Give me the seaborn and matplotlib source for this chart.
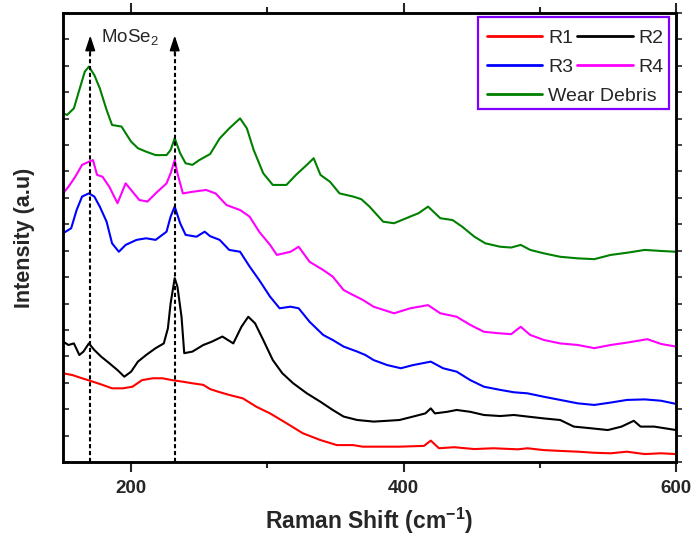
import matplotlib
matplotlib.use("Agg")
import matplotlib.pyplot as plt
from matplotlib.patches import Rectangle
import seaborn as sns
import numpy as np

# ---------------- data ----------------
x_r1 = [150, 157, 164, 172, 179, 186, 194, 201, 208, 216, 223, 230, 238, 245, 253, 258, 264, 272, 282, 292,
        302, 314, 326, 339, 351, 363, 370, 383, 397, 415, 420, 426, 437, 452, 466, 484, 491, 503, 515, 528,
        540, 552, 564, 577, 589, 600]
y_r1 = [3.36, 3.29, 3.17, 3.04, 2.92, 2.79, 2.79, 2.85, 3.10, 3.17, 3.17, 3.10, 3.04, 2.98, 2.92, 2.76, 2.66, 2.54, 2.41, 2.09,
        1.84, 1.47, 1.09, 0.83, 0.64, 0.64, 0.58, 0.58, 0.58, 0.61, 0.81, 0.52, 0.56, 0.49, 0.52, 0.48, 0.52, 0.45, 0.42, 0.39,
        0.35, 0.33, 0.39, 0.30, 0.33, 0.30]

x_r2 = [150, 154, 158, 162, 165, 169, 173, 178, 184, 190, 195, 200, 205, 211, 218, 224, 227, 229, 232, 234,
        237, 239, 245, 253, 259, 267, 275, 281, 286, 291, 297, 304, 311, 319, 329, 339, 348, 356, 366, 374,
        378, 388, 397, 407, 416, 420, 423, 432, 439, 449, 459, 471, 481, 491, 503, 515, 525, 537, 550, 560,
        569, 574, 584, 600]
y_r2 = [4.56, 4.43, 4.49, 4.05, 4.18, 4.49, 4.24, 3.99, 3.74, 3.48, 3.23, 3.42, 3.80, 4.05, 4.31, 4.49, 5.06, 6.01, 6.96, 6.64,
        5.50, 4.12, 4.18, 4.43, 4.55, 4.75, 4.49, 5.12, 5.50, 5.25, 4.62, 3.86, 3.36, 2.98, 2.60, 2.28, 1.97, 1.72, 1.59, 1.55,
        1.53, 1.56, 1.59, 1.72, 1.84, 2.03, 1.84, 1.90, 1.97, 1.90, 1.78, 1.74, 1.78, 1.72, 1.65, 1.59, 1.34, 1.28, 1.21, 1.34,
        1.56, 1.34, 1.34, 1.21]

x_r3 = [150, 156, 160, 164, 169, 173, 177, 182, 186, 191, 196, 204, 211, 218, 226, 229, 232, 236, 240, 248,
        254, 258, 265, 272, 280, 287, 294, 302, 309, 317, 323, 331, 341, 348, 356, 366, 372, 378, 388, 398,
        407, 420, 429, 439, 449, 459, 471, 481, 491, 503, 515, 528, 540, 552, 564, 577, 589, 600]
y_r3 = [8.66, 8.85, 9.54, 10.05, 10.17, 10.05, 9.67, 9.10, 8.28, 7.96, 8.22, 8.41, 8.47, 8.41, 8.72, 9.29, 9.67, 9.04, 8.60, 8.53,
        8.72, 8.55, 8.41, 8.03, 7.96, 7.40, 6.89, 6.26, 5.82, 5.88, 5.82, 5.31, 4.81, 4.62, 4.37, 4.18, 4.05, 3.86, 3.67, 3.55,
        3.67, 3.80, 3.55, 3.42, 3.10, 2.85, 2.73, 2.64, 2.60, 2.47, 2.35, 2.22, 2.16, 2.25, 2.35, 2.37, 2.32, 2.20]

x_r4 = [150, 154, 159, 164, 169, 172, 175, 179, 184, 190, 196, 200, 206, 212, 218, 226, 229, 232, 234, 238,
        245, 255, 262, 270, 280, 287, 294, 302, 307, 317, 323, 331, 341, 348, 356, 363, 370, 378, 393, 405,
        418, 427, 439, 449, 459, 471, 479, 486, 493, 503, 515, 528, 540, 552, 564, 579, 589, 600]
y_r4 = [10.17, 10.42, 10.80, 11.25, 11.37, 11.43, 10.87, 10.80, 10.42, 9.80, 10.55, 10.30, 9.92, 9.86, 10.17, 10.55, 10.93, 11.43, 10.93, 10.17,
        10.23, 10.30, 10.17, 9.73, 9.54, 9.29, 8.72, 8.22, 7.84, 7.96, 8.15, 7.58, 7.27, 7.02, 6.51, 6.32, 6.14, 5.88, 5.63, 5.82,
        5.94, 5.63, 5.50, 5.19, 4.93, 4.87, 4.84, 5.12, 4.81, 4.62, 4.49, 4.43, 4.31, 4.43, 4.52, 4.65, 4.47, 4.37]

x_wd = [150, 153, 158, 162, 166, 169, 173, 177, 182, 186, 193, 196, 200, 205, 211, 218, 226, 229, 232, 236,
        240, 245, 250, 258, 265, 272, 280, 285, 290, 297, 304, 314, 321, 329, 334, 339, 346, 353, 363, 369,
        375, 385, 393, 402, 411, 418, 427, 436, 443, 452, 460, 471, 479, 486, 493, 503, 515, 528, 540, 552,
        565, 577, 589, 600]
y_wd = [13.20, 13.14, 13.39, 14.09, 14.78, 14.97, 14.65, 14.15, 13.33, 12.76, 12.70, 12.45, 12.13, 11.88, 11.75, 11.62, 11.62, 11.81, 12.26, 11.69,
        11.31, 11.25, 11.43, 11.66, 12.25, 12.63, 13.01, 12.63, 11.81, 10.93, 10.49, 10.49, 10.87, 11.25, 11.50, 10.87, 10.61, 10.17, 10.05, 9.95,
        9.67, 9.10, 9.04, 9.23, 9.42, 9.67, 9.23, 9.16, 8.91, 8.53, 8.28, 8.15, 8.12, 8.22, 8.03, 7.90, 7.77, 7.71, 7.68, 7.84,
        7.93, 8.03, 7.99, 7.96]

series_names = ["R1", "R2", "R3", "R4", "Wear Debris"]
series_colors = ["#ff0000", "#000000", "#0000ff", "#ff00ff", "#008000"]
marker_positions = [170, 232]
x_ticks_major = [200, 400, 600]
x_ticks_minor = [300, 500]

# ---------------- style ----------------
sns.set_style("ticks")
plt.rcParams["font.family"] = ["Liberation Sans", "DejaVu Sans"]
plt.rcParams["mathtext.fontset"] = "custom"
plt.rcParams["mathtext.rm"] = "Liberation Sans"
plt.rcParams["mathtext.bf"] = "Liberation Sans:bold"

W, H = 696, 544
fig = plt.figure(figsize=(W / 100, H / 100), dpi=100)
ax = fig.add_axes([63 / W, 1 - 462 / H, 613 / W, 449 / H])

xs = [x_r1, x_r2, x_r3, x_r4, x_wd]
ys = [y_r1, y_r2, y_r3, y_r4, y_wd]
for xv, yv, name, col in zip(xs, ys, series_names, series_colors):
    sns.lineplot(x=xv, y=yv, ax=ax, color=col, linewidth=1.5, label=name, estimator=None, sort=False)

# dashed arrows marking MoSe2 peaks
for xp in marker_positions:
    ax.plot([xp, xp], [0, 15.6], color="black", linewidth=1.5, linestyle=(0, (2, 1.3)), zorder=5)
    ax.annotate("", xy=(xp, 16.15), xytext=(xp, 15.4),
                arrowprops=dict(arrowstyle="-|>,head_length=0.9,head_width=0.3", color="black",
                                linewidth=1.2, shrinkA=0, shrinkB=0), zorder=6)
ax.text(178, 16.05, "MoSe$_2$", fontsize=13.5, va="center", ha="left")

ax.set_xlim(150, 600)
ax.set_ylim(0, 17)
ax.set_xticks(x_ticks_major)
ax.set_xticks(x_ticks_minor, minor=True)
ax.set_xticklabels([str(v) for v in x_ticks_major], fontsize=13.5, fontweight="bold")
ax.set_yticks(np.arange(0, 18, 1))
ax.set_yticklabels([])
ax.tick_params(axis="x", which="major", direction="out", length=7, width=1.5, top=True, pad=6)
ax.tick_params(axis="x", which="minor", direction="out", length=4, width=1.5, top=True)
ax.tick_params(axis="y", which="major", direction="in", length=4, width=1.2, left=True, right=False)

# right-side outward ticks
ax_r = ax.twinx()
ax_r.set_ylim(0, 17)
ax_r.set_yticks(np.arange(0, 18, 1))
ax_r.set_yticklabels([])
ax_r.tick_params(axis="y", direction="out", length=4, width=1.2)

for a in (ax, ax_r):
    for s in a.spines.values():
        s.set_linewidth(1.8)
        s.set_color("black")
        s.set_visible(True)

ax.set_xlabel(r"Raman Shift (cm$^{\mathbf{-1}}$)", fontsize=16.5, fontweight="bold", labelpad=6)
ax.set_ylabel("Intensity (a.u)", fontsize=15.5, fontweight="bold", labelpad=17)

# ---------------- legend: two stacked legends inside one purple frame ----------------
handles, labels = ax.get_legend_handles_labels()
if ax.get_legend() is not None:
    ax.get_legend().remove()
hmap = dict(zip(labels, handles))

common = dict(fontsize=14, frameon=False, handlelength=2.85, handletextpad=0.3,
              borderpad=0, borderaxespad=0, loc="upper left", bbox_transform=fig.transFigure)
leg1 = ax_r.legend([hmap["R1"], hmap["R3"], hmap["R2"], hmap["R4"]], ["R1", "R3", "R2", "R4"],
                   ncol=2, columnspacing=0.2, labelspacing=0.6,
                   bbox_to_anchor=(487 / W, 1 - 29 / H), **common)
ax_r.add_artist(leg1)
leg2 = ax_r.legend([hmap["Wear Debris"]], ["Wear Debris"],
                   bbox_to_anchor=(487 / W, 1 - 87 / H), **common)
for lg in (leg1, leg2):
    for ln in lg.get_lines():
        ln.set_linewidth(2.0)

fig.add_artist(Rectangle((478 / W, 1 - 109 / H), (669 - 478) / W, (109 - 17) / H,
                         transform=fig.transFigure, fill=False, edgecolor="#8000ff",
                         linewidth=1.6, zorder=10))

fig.savefig("out.png", dpi=100)
